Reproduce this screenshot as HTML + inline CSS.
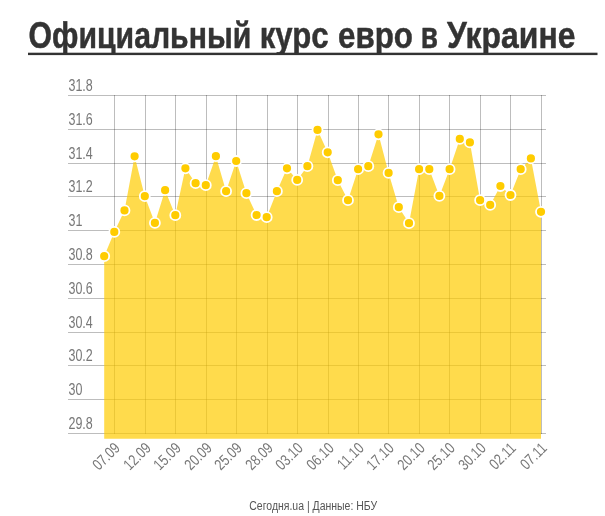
<!DOCTYPE html>
<html><head><meta charset="utf-8"><title>chart</title>
<style>html,body{margin:0;padding:0;background:#fff}svg{display:block}text{font-family:"Liberation Sans",sans-serif}</style></head>
<body>
<svg style="will-change:transform" width="605" height="516" viewBox="0 0 605 516">
<rect width="605" height="516" fill="#fff"/>
<clipPath id="tc"><rect x="0" y="0" width="605" height="55.1"/></clipPath><g clip-path="url(#tc)">
<text transform="translate(28.60,47.7) scale(0.8095,1)" font-size="37.3" font-weight="bold" fill="#333" stroke="#333" stroke-width="0.5" stroke-linejoin="round">Официальный</text>
<text transform="translate(259.79,47.7) scale(0.8341,1)" font-size="37.3" font-weight="bold" fill="#333" stroke="#333" stroke-width="0.5" stroke-linejoin="round">курс</text>
<text transform="translate(337.99,47.7) scale(0.8397,1)" font-size="37.3" font-weight="bold" fill="#333" stroke="#333" stroke-width="0.5" stroke-linejoin="round">евро</text>
<text transform="translate(420.84,47.7) scale(0.7509,1)" font-size="37.3" font-weight="bold" fill="#333" stroke="#333" stroke-width="0.5" stroke-linejoin="round">в</text>
<text transform="translate(447.00,47.7) scale(0.8553,1)" font-size="37.3" font-weight="bold" fill="#333" stroke="#333" stroke-width="0.5" stroke-linejoin="round">Украине</text>
</g>
<rect x="28" y="52.7" width="569.5" height="2.4" fill="#333"/>
<path d="M68,95.5H546M68,129.5H546M68,163.5H546M68,196.5H546M68,230.5H546M68,264.5H546M68,298.5H546M68,332.5H546M68,365.5H546M68,399.5H546M68,433.5H546" stroke="#000" stroke-opacity="0.26" stroke-width="1" fill="none"/>
<path d="M114.5,95V434M145.5,95V434M175.5,95V434M206.5,95V434M236.5,95V434M267.5,95V434M297.5,95V434M328.5,95V434M358.5,95V434M388.5,95V434M419.5,95V434M449.5,95V434M480.5,95V434M510.5,95V434M541.5,95V434" stroke="#000" stroke-opacity="0.26" stroke-width="1" fill="none"/>
<polygon points="104.2,438.7 104.2,256.2 114.3,231.9 124.5,210.4 134.6,156.3 144.8,196.2 154.9,222.9 165.1,190.2 175.3,215.2 185.4,168.3 195.6,183.2 205.8,185.2 215.9,156.2 226.1,191.2 236.2,161.0 246.4,193.2 256.6,215.0 266.7,217.2 276.9,191.2 287.0,168.3 297.2,179.9 307.4,166.2 317.5,129.9 327.7,152.3 337.8,180.2 348.0,200.2 358.1,169.2 368.3,166.2 378.5,134.3 388.6,172.9 398.8,207.2 409.0,223.2 419.1,169.2 429.3,169.2 439.4,195.9 449.6,169.2 459.8,138.9 469.9,142.4 480.1,200.2 490.2,204.9 500.4,186.0 510.5,195.0 520.7,169.2 530.9,158.4 541.0,211.8 541.0,438.7" fill="#FFCC00" fill-opacity="0.7"/>
<circle cx="104.2" cy="256.2" r="5.0" fill="#FFCC00" stroke="#fff" stroke-width="1.8"/>
<circle cx="114.3" cy="231.9" r="5.0" fill="#FFCC00" stroke="#fff" stroke-width="1.8"/>
<circle cx="124.5" cy="210.4" r="5.0" fill="#FFCC00" stroke="#fff" stroke-width="1.8"/>
<circle cx="134.6" cy="156.3" r="5.0" fill="#FFCC00" stroke="#fff" stroke-width="1.8"/>
<circle cx="144.8" cy="196.2" r="5.0" fill="#FFCC00" stroke="#fff" stroke-width="1.8"/>
<circle cx="154.9" cy="222.9" r="5.0" fill="#FFCC00" stroke="#fff" stroke-width="1.8"/>
<circle cx="165.1" cy="190.2" r="5.0" fill="#FFCC00" stroke="#fff" stroke-width="1.8"/>
<circle cx="175.3" cy="215.2" r="5.0" fill="#FFCC00" stroke="#fff" stroke-width="1.8"/>
<circle cx="185.4" cy="168.3" r="5.0" fill="#FFCC00" stroke="#fff" stroke-width="1.8"/>
<circle cx="195.6" cy="183.2" r="5.0" fill="#FFCC00" stroke="#fff" stroke-width="1.8"/>
<circle cx="205.8" cy="185.2" r="5.0" fill="#FFCC00" stroke="#fff" stroke-width="1.8"/>
<circle cx="215.9" cy="156.2" r="5.0" fill="#FFCC00" stroke="#fff" stroke-width="1.8"/>
<circle cx="226.1" cy="191.2" r="5.0" fill="#FFCC00" stroke="#fff" stroke-width="1.8"/>
<circle cx="236.2" cy="161.0" r="5.0" fill="#FFCC00" stroke="#fff" stroke-width="1.8"/>
<circle cx="246.4" cy="193.2" r="5.0" fill="#FFCC00" stroke="#fff" stroke-width="1.8"/>
<circle cx="256.6" cy="215.0" r="5.0" fill="#FFCC00" stroke="#fff" stroke-width="1.8"/>
<circle cx="266.7" cy="217.2" r="5.0" fill="#FFCC00" stroke="#fff" stroke-width="1.8"/>
<circle cx="276.9" cy="191.2" r="5.0" fill="#FFCC00" stroke="#fff" stroke-width="1.8"/>
<circle cx="287.0" cy="168.3" r="5.0" fill="#FFCC00" stroke="#fff" stroke-width="1.8"/>
<circle cx="297.2" cy="179.9" r="5.0" fill="#FFCC00" stroke="#fff" stroke-width="1.8"/>
<circle cx="307.4" cy="166.2" r="5.0" fill="#FFCC00" stroke="#fff" stroke-width="1.8"/>
<circle cx="317.5" cy="129.9" r="5.0" fill="#FFCC00" stroke="#fff" stroke-width="1.8"/>
<circle cx="327.7" cy="152.3" r="5.0" fill="#FFCC00" stroke="#fff" stroke-width="1.8"/>
<circle cx="337.8" cy="180.2" r="5.0" fill="#FFCC00" stroke="#fff" stroke-width="1.8"/>
<circle cx="348.0" cy="200.2" r="5.0" fill="#FFCC00" stroke="#fff" stroke-width="1.8"/>
<circle cx="358.1" cy="169.2" r="5.0" fill="#FFCC00" stroke="#fff" stroke-width="1.8"/>
<circle cx="368.3" cy="166.2" r="5.0" fill="#FFCC00" stroke="#fff" stroke-width="1.8"/>
<circle cx="378.5" cy="134.3" r="5.0" fill="#FFCC00" stroke="#fff" stroke-width="1.8"/>
<circle cx="388.6" cy="172.9" r="5.0" fill="#FFCC00" stroke="#fff" stroke-width="1.8"/>
<circle cx="398.8" cy="207.2" r="5.0" fill="#FFCC00" stroke="#fff" stroke-width="1.8"/>
<circle cx="409.0" cy="223.2" r="5.0" fill="#FFCC00" stroke="#fff" stroke-width="1.8"/>
<circle cx="419.1" cy="169.2" r="5.0" fill="#FFCC00" stroke="#fff" stroke-width="1.8"/>
<circle cx="429.3" cy="169.2" r="5.0" fill="#FFCC00" stroke="#fff" stroke-width="1.8"/>
<circle cx="439.4" cy="195.9" r="5.0" fill="#FFCC00" stroke="#fff" stroke-width="1.8"/>
<circle cx="449.6" cy="169.2" r="5.0" fill="#FFCC00" stroke="#fff" stroke-width="1.8"/>
<circle cx="459.8" cy="138.9" r="5.0" fill="#FFCC00" stroke="#fff" stroke-width="1.8"/>
<circle cx="469.9" cy="142.4" r="5.0" fill="#FFCC00" stroke="#fff" stroke-width="1.8"/>
<circle cx="480.1" cy="200.2" r="5.0" fill="#FFCC00" stroke="#fff" stroke-width="1.8"/>
<circle cx="490.2" cy="204.9" r="5.0" fill="#FFCC00" stroke="#fff" stroke-width="1.8"/>
<circle cx="500.4" cy="186.0" r="5.0" fill="#FFCC00" stroke="#fff" stroke-width="1.8"/>
<circle cx="510.5" cy="195.0" r="5.0" fill="#FFCC00" stroke="#fff" stroke-width="1.8"/>
<circle cx="520.7" cy="169.2" r="5.0" fill="#FFCC00" stroke="#fff" stroke-width="1.8"/>
<circle cx="530.9" cy="158.4" r="5.0" fill="#FFCC00" stroke="#fff" stroke-width="1.8"/>
<circle cx="541.0" cy="211.8" r="5.0" fill="#FFCC00" stroke="#fff" stroke-width="1.8"/>
<text transform="translate(68.5,90.8) scale(0.8,1)" font-size="15.6" fill="#777">31.8</text>
<text transform="translate(68.5,124.8) scale(0.8,1)" font-size="15.6" fill="#777">31.6</text>
<text transform="translate(68.5,158.8) scale(0.8,1)" font-size="15.6" fill="#777">31.4</text>
<text transform="translate(68.5,191.8) scale(0.8,1)" font-size="15.6" fill="#777">31.2</text>
<text transform="translate(68.5,225.8) scale(0.8,1)" font-size="15.6" fill="#777">31</text>
<text transform="translate(68.5,259.8) scale(0.8,1)" font-size="15.6" fill="#777">30.8</text>
<text transform="translate(68.5,293.8) scale(0.8,1)" font-size="15.6" fill="#777">30.6</text>
<text transform="translate(68.5,327.8) scale(0.8,1)" font-size="15.6" fill="#777">30.4</text>
<text transform="translate(68.5,360.8) scale(0.8,1)" font-size="15.6" fill="#777">30.2</text>
<text transform="translate(68.5,394.8) scale(0.8,1)" font-size="15.6" fill="#777">30</text>
<text transform="translate(68.5,428.8) scale(0.8,1)" font-size="15.6" fill="#777">29.8</text>
<text transform="translate(120.8,449.0) rotate(-45) scale(0.8,1)" text-anchor="end" font-size="15.6" fill="#777">07.09</text>
<text transform="translate(151.8,449.0) rotate(-45) scale(0.8,1)" text-anchor="end" font-size="15.6" fill="#777">12.09</text>
<text transform="translate(181.8,449.0) rotate(-45) scale(0.8,1)" text-anchor="end" font-size="15.6" fill="#777">15.09</text>
<text transform="translate(212.8,449.0) rotate(-45) scale(0.8,1)" text-anchor="end" font-size="15.6" fill="#777">20.09</text>
<text transform="translate(242.8,449.0) rotate(-45) scale(0.8,1)" text-anchor="end" font-size="15.6" fill="#777">25.09</text>
<text transform="translate(273.8,449.0) rotate(-45) scale(0.8,1)" text-anchor="end" font-size="15.6" fill="#777">28.09</text>
<text transform="translate(303.8,449.0) rotate(-45) scale(0.8,1)" text-anchor="end" font-size="15.6" fill="#777">03.10</text>
<text transform="translate(334.8,449.0) rotate(-45) scale(0.8,1)" text-anchor="end" font-size="15.6" fill="#777">06.10</text>
<text transform="translate(364.8,449.0) rotate(-45) scale(0.8,1)" text-anchor="end" font-size="15.6" fill="#777">11.10</text>
<text transform="translate(394.8,449.0) rotate(-45) scale(0.8,1)" text-anchor="end" font-size="15.6" fill="#777">17.10</text>
<text transform="translate(425.8,449.0) rotate(-45) scale(0.8,1)" text-anchor="end" font-size="15.6" fill="#777">20.10</text>
<text transform="translate(455.8,449.0) rotate(-45) scale(0.8,1)" text-anchor="end" font-size="15.6" fill="#777">25.10</text>
<text transform="translate(486.8,449.0) rotate(-45) scale(0.8,1)" text-anchor="end" font-size="15.6" fill="#777">30.10</text>
<text transform="translate(516.8,449.0) rotate(-45) scale(0.8,1)" text-anchor="end" font-size="15.6" fill="#777">02.11</text>
<text transform="translate(547.8,449.0) rotate(-45) scale(0.8,1)" text-anchor="end" font-size="15.6" fill="#777">07.11</text>
<text transform="translate(313.2,510.2) scale(0.777,1)" text-anchor="middle" font-size="13.5" fill="#555">Сегодня.ua | Данные: НБУ</text>
</svg></body></html>
